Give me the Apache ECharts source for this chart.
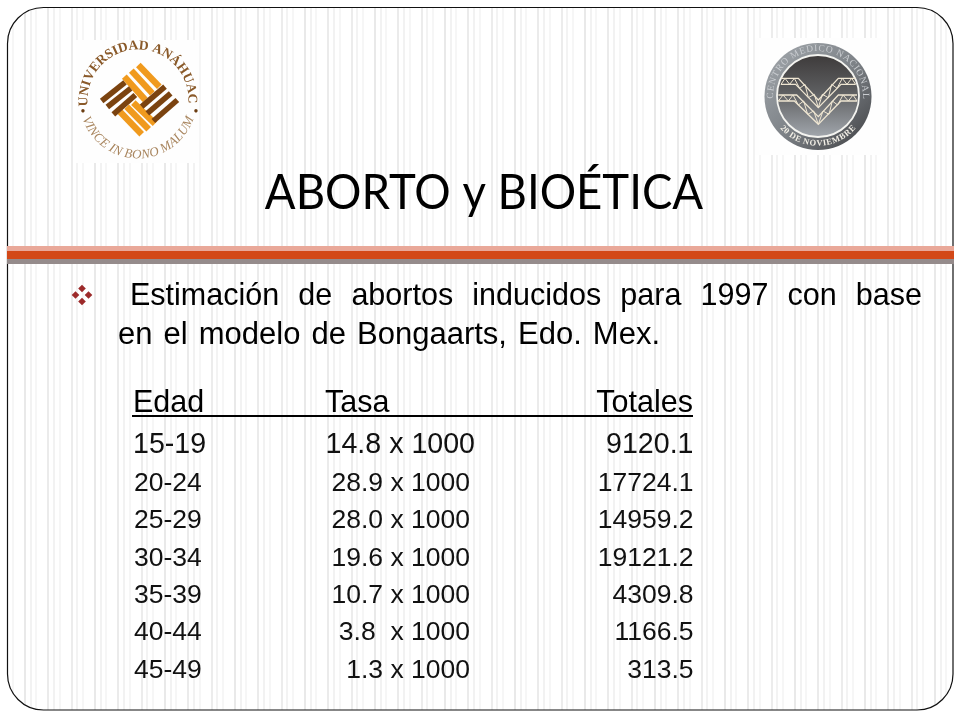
<!DOCTYPE html>
<html>
<head>
<meta charset="utf-8">
<title>ABORTO y BIOÉTICA</title>
<style>
	html, body { margin: 0; padding: 0; background: #fff; }
	#chart { width: 960px; height: 720px; }
</style>
<script src="https://cdn.jsdelivr.net/npm/echarts@6/dist/echarts.min.js"></script>
</head>
<body>
<div id="chart"></div>
<script>
// datos de la tabla
var edades = ['15-19', '20-24', '25-29', '30-34', '35-39', '40-44', '45-49'];
var tasas = [14.8, 28.9, 28.0, 19.6, 10.7, 3.8, 1.3];
var totales = [9120.1, 17724.1, 14959.2, 19121.2, 4309.8, 1166.5, 313.5];
var encabezados = ['Edad', 'Tasa', 'Totales'];
var titulo = 'ABORTO y BIOÉTICA';
var linea1 = 'Estimación de abortos inducidos para 1997 con base';
var linea2 = 'en el modelo de Bongaarts, Edo. Mex.';

var ARIAL = '"Liberation Sans", Arial, sans-serif';
var SERIF = '"Liberation Serif", "DejaVu Serif", serif';

var myChart = echarts.init(document.getElementById('chart'), null, { renderer: 'canvas' });
var medidor = document.createElement('canvas').getContext('2d');

// franjas verticales del fondo
function franjas() {
	var c = document.createElement('canvas');
	c.width = 70;
	c.height = 4;
	var ctx = c.getContext('2d');
	ctx.fillStyle = '#ffffff';
	ctx.fillRect(0, 0, 70, 4);
	var marcas = [[1, 2, '#ececec'], [6, 2, '#f3f3f3'], [12, 2, '#f6f6f6'], [24, 2, '#e9e9e9'], [30, 2, '#f2f2f2'], [35, 2, '#f6f6f6'], [47, 2, '#ebebeb'], [53, 2, '#f2f2f2'], [59, 2, '#f6f6f6']];
	marcas.forEach(function (m) {
		ctx.fillStyle = m[2];
		ctx.fillRect(m[0], 0, m[1], 4);
	});
	return c;
}

var elementos = [];

function rect(x, y, w, h, color) {
	elementos.push({ type: 'rect', z: -5, shape: { x: x, y: y, width: w, height: h }, style: { fill: color } });
}

function texto(t, x, y, font, color, align, rot, escala) {
	elementos.push({
		type: 'text', z: 2, x: x, y: y, rotation: rot || 0,
		scaleX: escala || 1,
		style: { text: t, font: font, fill: color, align: align || 'left', verticalAlign: 'middle' }
	});
}

function linea(puntos, ox, oy, color, ancho) {
	elementos.push({
		type: 'polyline', z: 1,
		shape: { points: puntos.map(function (p) { return [ox + p[0] / 3, oy + p[1] / 3]; }) },
		style: { stroke: color, lineWidth: ancho, fill: null, lineJoin: 'miter' }
	});
}

// texto sobre un arco, el angulo se reparte segun el ancho de cada letra
function arco(t, cx, cy, r, desde, hasta, font, color, arriba) {
	medidor.font = font;
	var anchos = t.split('').map(function (ch) { return medidor.measureText(ch).width; });
	var total = anchos.reduce(function (a, b) { return a + b; }, 0);
	var acum = 0;
	for (var i = 0; i < t.length; i++) {
		var a = (desde + (hasta - desde) * (acum + anchos[i] / 2) / total) * Math.PI / 180;
		acum += anchos[i];
		if (arriba) {
			texto(t[i], cx + r * Math.sin(a), cy - r * Math.cos(a), font, color, 'center', -a);
		} else {
			texto(t[i], cx + r * Math.sin(a), cy + r * Math.cos(a), font, color, 'center', a);
		}
	}
}

// renglon justificado palabra por palabra
function justificado(t, x0, x1, y, font) {
	medidor.font = font;
	var palabras = t.split(' ');
	var suma = 0;
	palabras.forEach(function (p) { suma += medidor.measureText(p).width; });
	var hueco = (x1 - x0 - suma) / (palabras.length - 1);
	var x = x0;
	palabras.forEach(function (p) {
		texto(p, x, y, font, '#000');
		x += medidor.measureText(p).width + hueco;
	});
}

// fondo
elementos.push({
	type: 'rect', z: -10,
	shape: { x: 7.5, y: 7.5, width: 945.5, height: 702.5, r: 36 },
	style: { fill: { image: franjas(), repeat: 'repeat' }, stroke: '#111', lineWidth: 1.2 }
});

// banda bajo el titulo
rect(7, 246, 947, 5, '#e9a899');
rect(7, 251, 947, 8, '#d34817');
rect(7, 259, 947, 5, '#958b8b');

// logo Anahuac
rect(76, 40, 123, 123, '#fefefe');
var cafe = '#7b4310', naranja = '#f09a1e';
[[[205, 90], [268, 155]], [[184, 107], [247, 175]], [[163, 125], [226, 195]],
	[[150, 230], [215, 298]], [[170, 215], [236, 283]], [[190, 203], [255, 266]]].forEach(function (p) {
	linea(p, 70, 35, naranja, 6.4);
});
[[[95, 198], [165, 142]], [[112, 216], [182, 160]], [[130, 238], [196, 180]],
	[[215, 215], [285, 155]], [[232, 235], [302, 175]], [[250, 258], [322, 195]]].forEach(function (p) {
	linea(p, 70, 35, cafe, 5.6);
});
arco('UNIVERSIDAD ANÁHUAC', 138, 100, 54, -97, 94, 'bold 13.5px ' + SERIF, '#8a5a2a', true);
arco('VINCE IN BONO MALUM', 138, 100, 55, -72, 72, 'italic 13px ' + SERIF, '#a9865f', false);
texto('•', 83, 112, '14px ' + SERIF, '#6b3d12', 'center');
texto('•', 196, 112, '14px ' + SERIF, '#6b3d12', 'center');

// logo Centro Medico
rect(755, 38, 126, 117, '#fefefe');
elementos.push({
	type: 'circle', z: 0, shape: { cx: 818, cy: 96.5, r: 53.5 },
	style: { fill: new echarts.graphic.LinearGradient(0, 0, 1, 1, [
		{ offset: 0, color: '#a4a9ae' }, { offset: 0.5, color: '#7f8489' }, { offset: 1, color: '#3e3f42' }
	]) }
});
elementos.push({
	type: 'circle', z: 0, shape: { cx: 818, cy: 96, r: 41 },
	style: { fill: new echarts.graphic.LinearGradient(0, 0, 0, 1, [
		{ offset: 0, color: '#3d3a3a' }, { offset: 0.45, color: '#5d5e60' }, { offset: 1, color: '#a3a8ae' }
	]), stroke: '#f4f4f0', lineWidth: 1.8 }
});
var beige = '#efe6d2';
linea([[78, 130], [130, 130], [190, 195], [250, 130], [302, 130]], 755, 35, beige, 1.3);
linea([[78, 148], [122, 148], [190, 218], [258, 148], [302, 148]], 755, 35, beige, 1.3);
linea([[78, 148], [90, 130], [104, 148], [118, 130], [134, 160], [150, 148], [160, 188], [178, 178], [190, 218], [202, 178], [220, 188], [230, 148], [246, 160], [262, 130], [276, 148], [290, 130], [302, 148]], 755, 35, beige, 1);
linea([[70, 180], [125, 180], [190, 245], [250, 180], [306, 180]], 755, 35, beige, 1.3);
linea([[70, 198], [118, 198], [190, 268], [258, 198], [306, 198]], 755, 35, beige, 1.3);
linea([[70, 198], [84, 180], [100, 198], [114, 180], [130, 210], [146, 198], [158, 238], [176, 228], [190, 268], [204, 228], [222, 238], [232, 198], [248, 210], [264, 180], [280, 198], [294, 180], [306, 198]], 755, 35, beige, 1);
arco('CENTRO MEDICO NACIONAL', 818, 96, 47.5, -94, 94, '9.5px ' + SERIF, '#c9ccd0', true);
arco('20 DE NOVIEMBRE', 818, 96, 47.5, -50, 50, 'bold 8.5px ' + SERIF, '#f2efe6', false);

// titulo
texto(titulo, 484, 194, '48px Lato, "Open Sans", sans-serif', '#000', 'center', 0, 0.948);

// vineta
[[82, 288.5], [75.5, 295], [88.5, 295], [82, 301.5]].forEach(function (p) {
	elementos.push({
		type: 'polygon', z: 2,
		shape: { points: [[p[0], p[1] - 3.8], [p[0] + 3.8, p[1]], [p[0], p[1] + 3.8], [p[0] - 3.8, p[1]]] },
		style: { fill: '#9c2a2a' }
	});
});

// cuerpo
var fontCuerpo = '30.5px ' + ARIAL;
justificado(linea1, 130, 922, 296.5, fontCuerpo);
justificado(linea2, 118, 660, 335.5, '31px ' + ARIAL);

// encabezado de la tabla
texto(encabezados[0], 133, 403.5, fontCuerpo, '#000');
texto(encabezados[1], 325, 403.5, fontCuerpo, '#000');
texto(encabezados[2], 693, 403.5, fontCuerpo, '#000', 'right');
rect(132, 415, 561, 2, '#000');

var option = {
	animation: false,
	backgroundColor: '#fff',
	graphic: { elements: elementos },
	grid: { left: 0, right: 0, top: 427.3, height: 261.8 },
	xAxis: { type: 'value', min: 0, max: 960, show: false },
	yAxis: { type: 'category', data: edades, inverse: true, show: false },
	series: [{
		type: 'custom',
		z: 10,
		silent: true,
		encode: { y: 0 },
		data: edades.map(function (e, i) { return [e, tasas[i], totales[i]]; }),
		renderItem: function (params, api) {
			var fila = api.value(0);
			var y = api.coord([0, fila])[1];
			var primera = fila === 0;
			var font = (primera ? 28.6 : 26.5) + 'px ' + ARIAL;
			var tasa = api.value(1);
			if (primera) y -= 1;
			function celda(t, x, align) {
				return { type: 'text', style: { text: t, x: x, y: y, font: font, fill: '#111', align: align, verticalAlign: 'middle' } };
			}
			return {
				type: 'group',
				children: [
					celda(edades[fila], primera ? 133 : 134, 'left'),
					celda(tasa.toFixed(1) + (tasa === 3.8 ? '  ' : ' ') + 'x 1000', primera ? 475 : 470, 'right'),
					celda(api.value(2).toFixed(1), 693.5, 'right')
				]
			};
		}
	}]
};

myChart.setOption(option);
</script>
</body>
</html>
